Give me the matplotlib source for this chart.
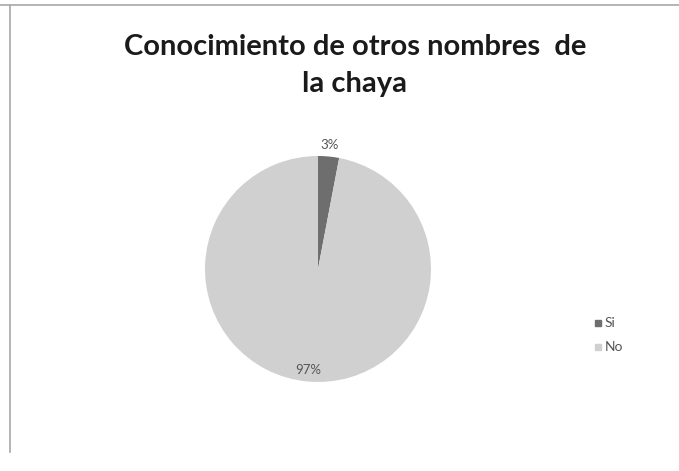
import matplotlib.pyplot as plt
from matplotlib.lines import Line2D
import numpy as np

categorias = ['Si', 'No']
porcentajes = [3, 97]
colores = ['#6e6e6e', '#d0d0d0']

fig = plt.figure(figsize=(6.79, 4.71), dpi=100)
fig.patch.set_facecolor('white')

# borde del área del gráfico
fig.add_artist(Line2D([0, 1], [1 - 5/471, 1 - 5/471], color='#a8a8a8', lw=1.2))
fig.add_artist(Line2D([10/679, 10/679], [1 - 5/471, 1 - 452/471], color='#a8a8a8', lw=1.2))

fig.text(355/679, 1 - 47/471, 'Conocimiento de otros nombres  de', ha='center', va='center',
         fontsize=21, fontweight='bold', family='Lato', color='#1a1a1a')
fig.text(355/679, 1 - 84/471, 'la chaya', ha='center', va='center',
         fontsize=21, fontweight='bold', family='Lato', color='#1a1a1a')

ax = fig.add_axes([205/679, 89/471, 226/679, 226/471])
wedges, _ = ax.pie(porcentajes, colors=colores, startangle=90, counterclock=False,
                   radius=1.0, wedgeprops=dict(linewidth=0))
ax.set_xlim(-1, 1)
ax.set_ylim(-1, 1)
ax.set_aspect('equal')
ax.axis('off')

# etiquetas de porcentaje
for w, p, r in zip(wedges, porcentajes, [1.1, 0.9]):
    ang = np.deg2rad((w.theta1 + w.theta2) / 2)
    ax.text(r * np.cos(ang), r * np.sin(ang), f'{p}%', ha='center', va='center',
            fontsize=9.5, color='#555555', family='Lato', clip_on=False)

# leyenda
for i, (cat, col) in enumerate(zip(categorias, colores)):
    y = 1 - (323 + 24 * i) / 471
    fig.patches.append(plt.Rectangle((595/679, y - 3/471), 6/679, 6/471, color=col,
                                     transform=fig.transFigure, figure=fig))
    fig.text(605/679, y, cat, ha='left', va='center', fontsize=10, color='#555555', family='Lato')

fig.savefig('out.png', dpi=100)
